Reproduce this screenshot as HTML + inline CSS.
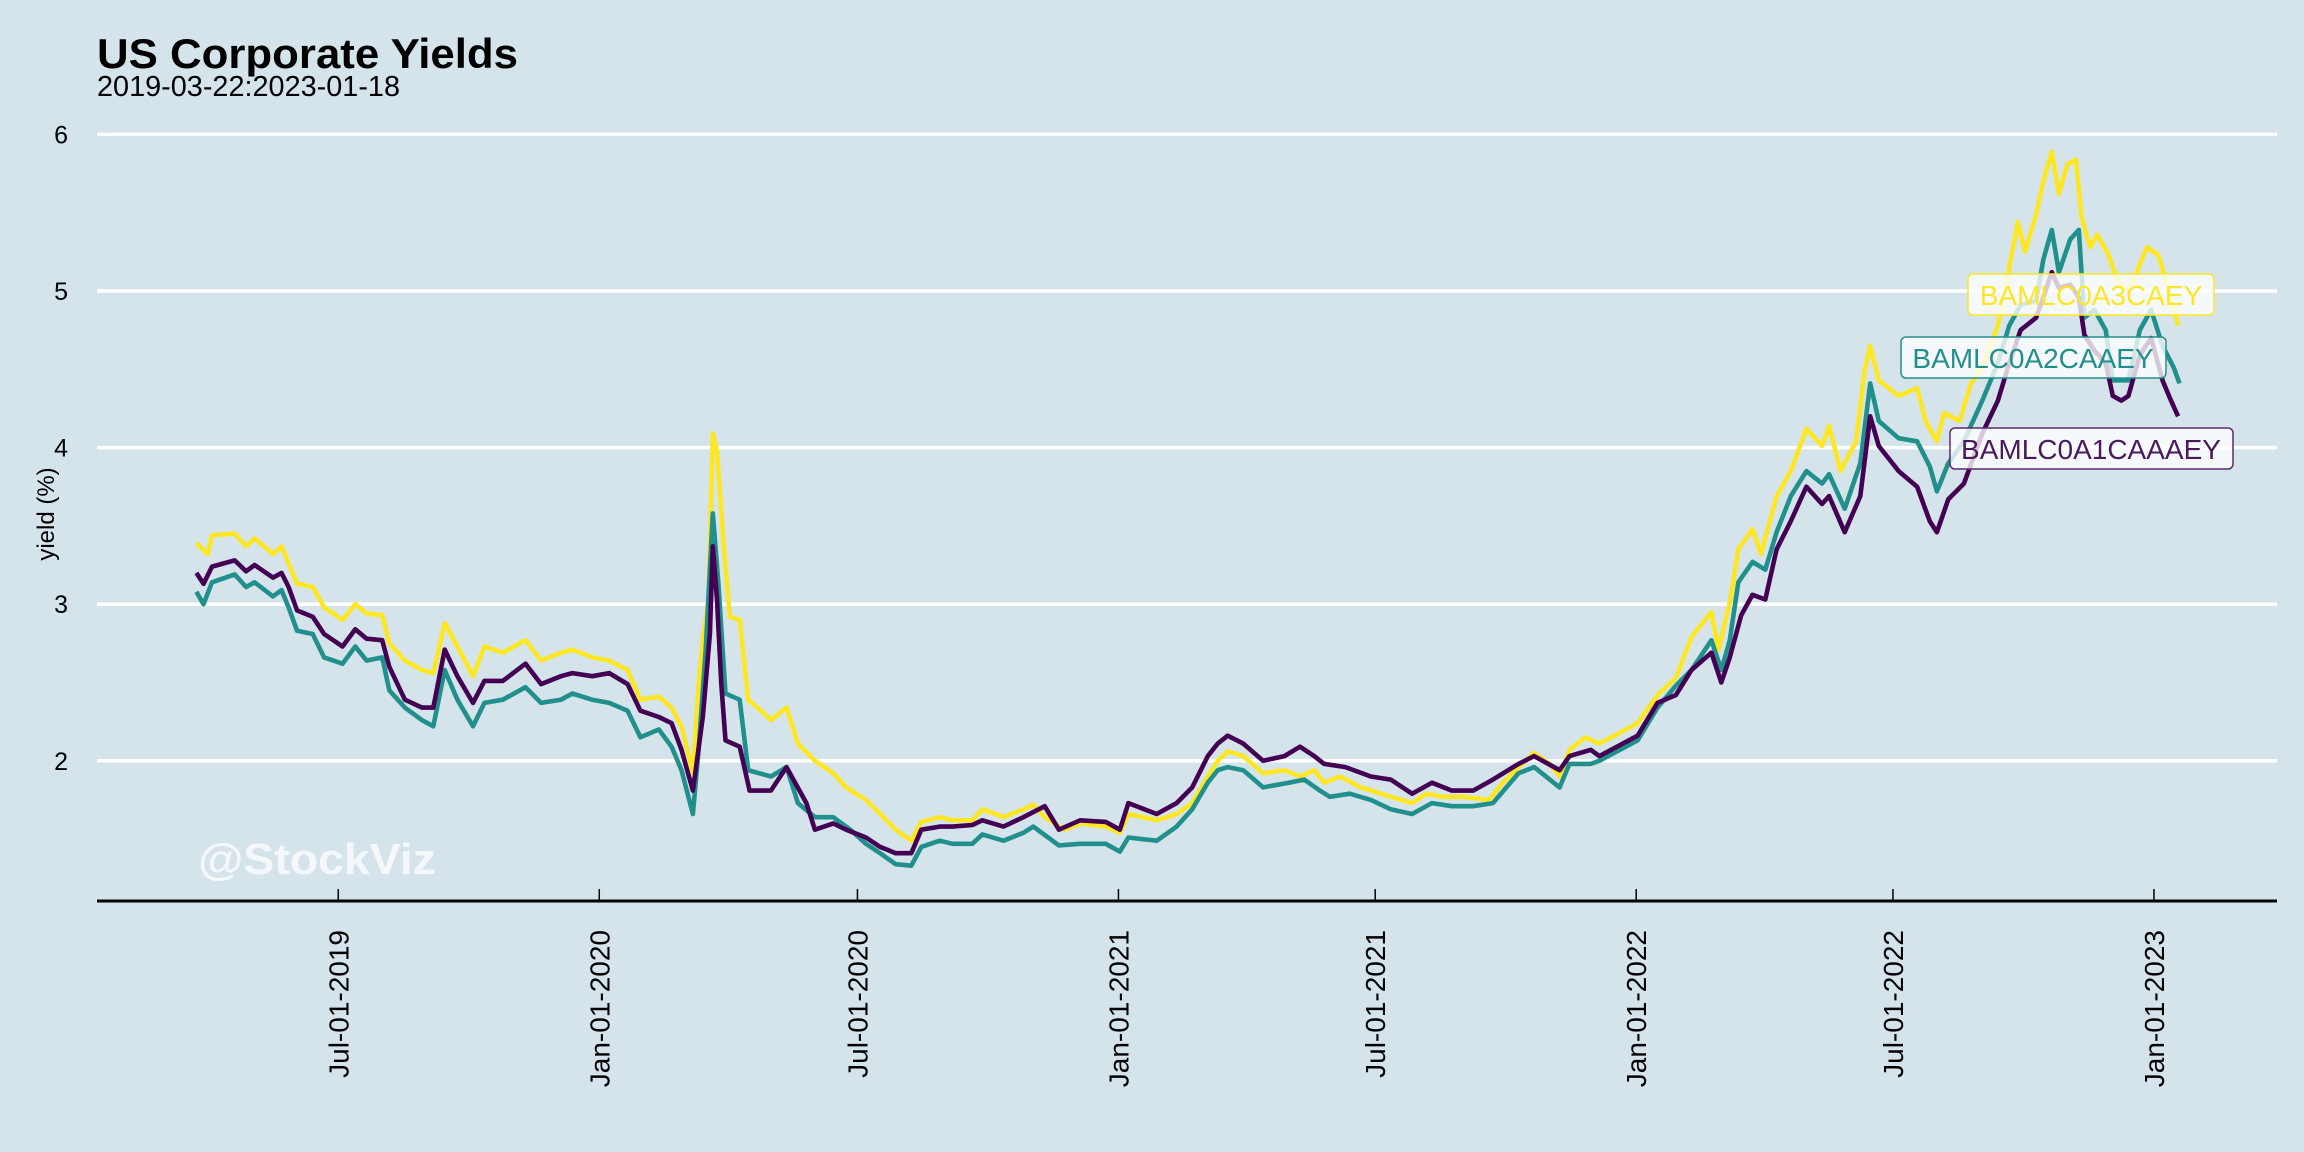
<!DOCTYPE html>
<html><head><meta charset="utf-8"><style>
html,body{margin:0;padding:0;background:#d5e4eb;}
svg{display:block;font-family:"Liberation Sans",Arial,sans-serif;}
</style></head><body>
<svg id="chart" width="2304" height="1152" viewBox="0 0 2304 1152" xmlns="http://www.w3.org/2000/svg">
<rect x="0" y="0" width="2304" height="1152" fill="#d5e4eb"/>
<text x="97" y="68" font-size="42" font-weight="bold" textLength="421" lengthAdjust="spacingAndGlyphs">US Corporate Yields</text>
<text x="97" y="96" font-size="29" textLength="303" lengthAdjust="spacingAndGlyphs">2019-03-22:2023-01-18</text>
<text transform="translate(54,514) rotate(-90)" text-anchor="middle" font-size="24">yield (%)</text>
<g id="grid"></g>
<g id="ylabels"></g>
<text x="198" y="874" font-size="44" font-weight="bold" fill="#ffffff" fill-opacity="0.75" textLength="238" lengthAdjust="spacingAndGlyphs">@StockViz</text>
<g id="lines"></g>
<line x1="97" y1="901" x2="2277" y2="901" stroke="#000" stroke-width="3"/>
<g id="xticks"></g>
<g>
<rect x="1968" y="274" width="246" height="41" rx="5" fill="#ffffff" fill-opacity="0.78" stroke="#FDE725" stroke-width="1.5"/>
<text x="2091" y="305" text-anchor="middle" font-size="28" fill="#FDE725">BAMLC0A3CAEY</text></g>
<g>
<rect x="1901" y="337" width="265" height="41" rx="5" fill="#ffffff" fill-opacity="0.78" stroke="#21908C" stroke-width="1.5"/>
<text x="2033" y="368" text-anchor="middle" font-size="28" fill="#21908C">BAMLC0A2CAAEY</text></g>
<g>
<rect x="1950" y="428" width="283" height="41" rx="5" fill="#ffffff" fill-opacity="0.78" stroke="#5a2a6e" stroke-width="1.5"/>
<text x="2091" y="459" text-anchor="middle" font-size="28" fill="#4a1a5e">BAMLC0A1CAAAEY</text></g>
</svg>
<script>
const yTicks = [2, 3, 4, 5, 6];
const xTickDays = [101, 285, 467, 651, 832, 1016, 1197, 1381];
const xTickLabels = ["Jul-01-2019","Jan-01-2020","Jul-01-2020","Jan-01-2021","Jul-01-2021","Jan-01-2022","Jul-01-2022","Jan-01-2023"];
const seriesNames = ["BAMLC0A3CAEY","BAMLC0A2CAAEY","BAMLC0A1CAAAEY"];
// days since 2019-03-22
const a3Days = [1,9,12,28,36,42,55,61,66,72,83,91,104,113,121,132,137,148,160,168,176,185,196,204,217,233,244,258,266,280,292,305,314,327,336,343,351,355,358,362,365,368,373,377,384,390,399,406,417,425,437,450,459,
473,483,494,505,512,525,534,548,555,570,584,591,599,613,624,642,652,658,678,692,703,714,721,728,739,753,768,779,789,796,807,822,843,858,868,879,894,912,922,933,944,955,962,969,980,
990,1017,1031,1044,1055,1069,1074,1082,1088,1098,1104,1115,1125,1136,1147,1152,1160,1171,1177,1181,1187,1201,1214,1220,1228,1233,1244,1252,1260,1271,1279,1285,1290,1298,1303,1309,1314,1320,1326,1330,1336,1341,1349,1355,1363,1368,1376,1384,1393,1398];
const a3Vals = [3.39,3.32,3.44,3.45,3.37,3.42,3.32,3.37,3.26,3.13,3.11,2.98,2.90,3.00,2.94,2.93,2.75,2.64,2.58,2.56,2.88,2.73,2.54,2.73,2.69,2.77,2.64,2.69,2.71,2.66,2.64,2.58,2.39,2.41,2.34,2.22,1.92,2.49,2.77,3.03,4.09,3.98,3.34,2.92,2.90,2.39,2.32,2.26,2.34,2.11,2.00,1.92,1.83,
1.75,1.66,1.56,1.49,1.61,1.64,1.62,1.62,1.69,1.64,1.69,1.72,1.64,1.56,1.60,1.58,1.54,1.66,1.62,1.66,1.73,1.90,2.00,2.06,2.03,1.92,1.94,1.90,1.94,1.86,1.90,1.83,1.77,1.73,1.79,1.77,1.77,1.75,1.86,1.96,2.05,1.98,1.90,2.07,2.15,
2.11,2.24,2.42,2.53,2.79,2.95,2.71,3.01,3.35,3.48,3.32,3.69,3.85,4.12,4.01,4.14,3.85,4.04,4.49,4.65,4.43,4.33,4.38,4.17,4.04,4.22,4.17,4.41,4.51,4.78,5.15,5.44,5.25,5.49,5.70,5.89,5.62,5.81,5.84,5.47,5.28,5.36,5.23,5.07,4.99,5.10,5.28,5.23,4.96,4.78];
const a2Days = [1,6,12,28,36,42,55,61,66,72,83,91,104,113,121,132,137,148,160,168,176,185,196,204,217,233,244,258,266,280,292,305,314,327,336,343,351,355,360,365,369,374,384,390,406,417,425,437,450,
462,473,483,494,505,512,525,534,548,555,570,584,591,609,624,642,652,658,678,692,703,714,721,728,739,753,771,782,793,800,814,829,843,858,872,886,901,915,933,944,962,969,984,
990,1017,1031,1044,1055,1069,1076,1082,1088,1098,1107,1115,1125,1136,1147,1152,1163,1174,1181,1187,1201,1214,1223,1228,1236,1247,1260,1271,1279,1287,1298,1303,1309,1314,1322,1328,1332,1339,1347,1352,1363,1371,1379,1387,1395,1399];
const a2Vals = [3.08,3.00,3.14,3.19,3.11,3.14,3.05,3.09,2.98,2.83,2.81,2.66,2.62,2.73,2.64,2.66,2.45,2.34,2.26,2.22,2.58,2.39,2.22,2.37,2.39,2.47,2.37,2.39,2.43,2.39,2.37,2.32,2.15,2.20,2.09,1.94,1.66,2.07,2.71,3.58,3.13,2.43,2.39,1.94,1.90,1.96,1.73,1.64,1.64,
1.56,1.47,1.41,1.34,1.33,1.45,1.49,1.47,1.47,1.53,1.49,1.54,1.58,1.46,1.47,1.47,1.42,1.51,1.49,1.58,1.69,1.86,1.94,1.96,1.94,1.83,1.86,1.88,1.81,1.77,1.79,1.75,1.69,1.66,1.73,1.71,1.71,1.73,1.92,1.96,1.83,1.98,1.98,
2.00,2.13,2.34,2.48,2.58,2.77,2.58,2.77,3.14,3.27,3.22,3.46,3.69,3.85,3.77,3.83,3.61,3.90,4.41,4.17,4.06,4.04,3.88,3.72,3.90,4.04,4.30,4.54,4.78,4.91,4.94,5.20,5.39,5.12,5.33,5.39,4.83,4.88,4.75,4.43,4.43,4.75,4.88,4.65,4.51,4.41];
const a1Days = [1,6,12,28,36,42,55,61,66,72,83,91,104,113,121,132,137,148,160,168,176,185,196,204,217,233,244,258,266,280,292,305,314,327,336,343,351,358,363,365,368,371,374,384,391,406,417,431,437,450,459,
473,483,494,505,512,525,534,548,555,570,584,599,609,624,642,652,658,678,692,703,714,721,728,739,753,768,779,789,796,811,829,843,858,872,886,901,915,933,944,962,969,984,
990,1017,1031,1044,1055,1069,1076,1082,1090,1098,1107,1115,1125,1136,1147,1152,1163,1174,1181,1187,1201,1214,1223,1228,1236,1247,1260,1271,1279,1287,1298,1303,1309,1314,1322,1328,1332,1339,1347,1352,1358,1363,1371,1379,1387,1393,1398];
const a1Vals = [3.20,3.13,3.24,3.28,3.21,3.25,3.17,3.20,3.11,2.96,2.92,2.81,2.73,2.84,2.78,2.77,2.60,2.39,2.34,2.34,2.71,2.54,2.37,2.51,2.51,2.62,2.49,2.54,2.56,2.54,2.56,2.49,2.32,2.28,2.24,2.07,1.81,2.28,2.81,3.37,3.03,2.49,2.13,2.09,1.81,1.81,1.96,1.73,1.56,1.60,1.56,
1.51,1.45,1.41,1.41,1.56,1.58,1.58,1.59,1.62,1.58,1.64,1.71,1.56,1.62,1.61,1.56,1.73,1.66,1.73,1.83,2.03,2.11,2.16,2.11,2.00,2.03,2.09,2.03,1.98,1.96,1.90,1.88,1.79,1.86,1.81,1.81,1.88,1.98,2.03,1.94,2.03,2.07,
2.03,2.16,2.37,2.42,2.58,2.69,2.50,2.66,2.93,3.06,3.03,3.35,3.53,3.75,3.64,3.69,3.46,3.69,4.20,4.01,3.85,3.75,3.53,3.46,3.67,3.77,4.09,4.30,4.54,4.75,4.83,4.96,5.12,5.02,5.04,4.96,4.72,4.62,4.54,4.33,4.30,4.33,4.59,4.70,4.43,4.30,4.20];

const NS = "http://www.w3.org/2000/svg";
function xScale(d){ return 195 + 1.4185 * d; }
function yScale(v){ return 760.8 - (v - 2) * 156.6; }

const grid = document.getElementById('grid');
const ylab = document.getElementById('ylabels');
yTicks.forEach(function(t){
  const l = document.createElementNS(NS,'line');
  l.setAttribute('x1',97); l.setAttribute('x2',2277);
  l.setAttribute('y1',yScale(t)); l.setAttribute('y2',yScale(t));
  l.setAttribute('stroke','#ffffff'); l.setAttribute('stroke-width','3.5');
  
  
  grid.appendChild(l);
  const tx = document.createElementNS(NS,'text');
  tx.setAttribute('x',68); tx.setAttribute('y',yScale(t)+9);
  tx.setAttribute('text-anchor','end'); tx.setAttribute('font-size','25');
  tx.textContent = String(t);
  
  
  ylab.appendChild(tx);
});

const xt = document.getElementById('xticks');
xTickDays.forEach(function(d,i){
  const x = xScale(d);
  const l = document.createElementNS(NS,'line');
  l.setAttribute('x1',x); l.setAttribute('x2',x);
  l.setAttribute('y1',889); l.setAttribute('y2',901);
  l.setAttribute('stroke','#000'); l.setAttribute('stroke-width','1.5');
  
  
  xt.appendChild(l);
  const tx = document.createElementNS(NS,'text');
  tx.setAttribute('transform','translate(' + (x + 10) + ',930) rotate(-90)');
  tx.setAttribute('text-anchor','end'); tx.setAttribute('font-size','28');
  tx.textContent = xTickLabels[i];
  
  
  xt.appendChild(tx);
});

const lines = document.getElementById('lines');
function drawSeries(days, vals, color, name){
  let d = '';
  for (let i = 0; i < days.length; i++){
    d += (i ? 'L' : 'M') + xScale(days[i]).toFixed(1) + ',' + yScale(vals[i]).toFixed(1);
  }
  const p = document.createElementNS(NS,'path');
  p.setAttribute('d', d);
  p.setAttribute('fill','none'); p.setAttribute('stroke',color);
  p.setAttribute('stroke-width','4.6'); p.setAttribute('stroke-linejoin','round');
  
  
  lines.appendChild(p);
}
drawSeries(a3Days, a3Vals, '#FDE725', 'series-a3-line');
drawSeries(a2Days, a2Vals, '#21908C', 'series-a2-line');
drawSeries(a1Days, a1Vals, '#440154', 'series-a1-line');
</script>
</body></html>
